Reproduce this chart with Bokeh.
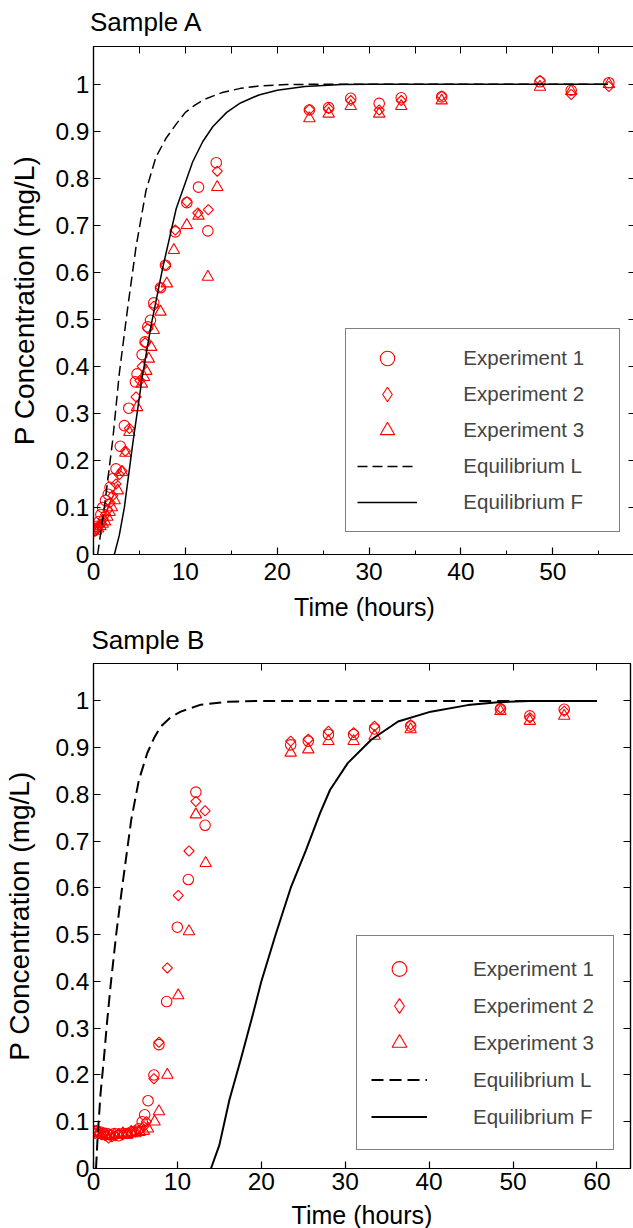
from bokeh.plotting import figure
from bokeh.layouts import column
from bokeh.models import LinearAxis, Range1d, Legend, LegendItem, FixedTicker, CustomJSTickFormatter
from bokeh.embed import file_html
from bokeh.resources import INLINE

FONT = "Liberation Sans"
RED = "#ff0000"

# ---------------- Sample A data ----------------
a_t1 = [0.05, 0.2, 0.4, 0.6, 0.8, 1.0, 1.3, 1.6, 1.8, 2.1, 2.45, 2.92, 3.36, 3.84, 4.56, 4.74, 5.29, 5.62, 5.91, 6.2, 6.56,
        7.29, 7.83, 8.9, 10.16, 11.43, 12.45, 13.36, 23.5, 25.6, 28.0, 31.1, 33.5, 37.9, 48.6, 52.0, 56.1]
a_c1 = [0.05, 0.055, 0.06, 0.07, 0.085, 0.1, 0.115, 0.128, 0.143, 0.161, 0.182, 0.23, 0.274, 0.311, 0.367, 0.384, 0.425,
        0.452, 0.484, 0.498, 0.535, 0.567, 0.615, 0.686, 0.748, 0.781, 0.688, 0.833, 0.945, 0.95, 0.970, 0.959, 0.971,
        0.973, 1.005, 0.987, 1.003]
a_t2 = [0.15, 0.35, 0.55, 0.8, 1.05, 1.3, 1.55, 1.8, 2.1, 2.45, 2.8, 3.1, 3.47, 3.9, 4.63, 5.05, 5.3, 5.62, 5.91, 6.56,
        7.29, 7.85, 8.9, 10.16, 11.36, 12.5, 13.47, 23.5, 25.6, 28.0, 31.1, 33.5, 37.9, 48.6, 52.0, 56.1]
a_c2 = [0.05, 0.055, 0.06, 0.065, 0.075, 0.085, 0.095, 0.11, 0.125, 0.15, 0.17, 0.178, 0.22, 0.268, 0.335, 0.37, 0.40,
        0.45, 0.48, 0.528, 0.568, 0.615, 0.69, 0.75, 0.726, 0.733, 0.815, 0.946, 0.948, 0.965, 0.945, 0.965, 0.975,
        1.008, 0.978, 0.995]
a_t3 = [0.25, 0.5, 0.75, 1.0, 1.25, 1.5, 1.75, 2.0, 2.3, 2.64, 3.1, 3.47, 3.9, 4.74, 5.26, 5.5, 5.75, 6.02, 6.27, 6.56,
        7.29, 7.98, 8.75, 10.16, 11.43, 12.45, 13.47, 23.5, 25.6, 28.0, 31.1, 33.5, 37.9, 48.6, 52.0, 56.1]
a_c3 = [0.05, 0.055, 0.06, 0.065, 0.07, 0.08, 0.09, 0.1, 0.115, 0.136, 0.175, 0.216, 0.26, 0.313, 0.363, 0.377, 0.39,
        0.416, 0.441, 0.477, 0.516, 0.576, 0.647, 0.700, 0.72, 0.590, 0.781, 0.927, 0.937, 0.953, 0.937, 0.953, 0.965,
        0.994, 0.985, 1.0]
a_Lt = [0.45, 1.18, 2.09, 2.81, 3.73, 4.63, 5.72, 6.8, 7.9, 9.0, 10.0, 11.0, 12.0, 14.0, 16.0, 18.0, 21.0, 25.0, 56.0]
a_Lc = [0.0, 0.1, 0.243, 0.385, 0.526, 0.654, 0.774, 0.845, 0.885, 0.915, 0.94, 0.955, 0.967, 0.982, 0.991, 0.996,
        0.999, 1.0, 1.0]
a_Ft = [2.27, 2.8, 3.36, 4.27, 5.29, 6.27, 7.54, 9.0, 10.8, 11.9, 13.0, 14.5, 16.0, 18.0, 20.0, 23.0, 27.0, 30.0, 56.0]
a_Fc = [0.0, 0.04, 0.1, 0.235, 0.375, 0.487, 0.61, 0.735, 0.835, 0.878, 0.91, 0.94, 0.96, 0.977, 0.987, 0.995, 0.999,
        1.0, 1.0]

# ---------------- Sample B data ----------------
b_t1 = [0.1, 0.4, 0.8, 1.2, 1.6, 2.0, 2.5, 3.0, 3.5, 4.0, 4.5, 5.0, 5.4, 5.8, 6.1, 6.5, 7.2, 7.8, 8.72, 9.99, 11.3,
        12.2, 13.3, 23.5, 25.6, 28.0, 31.0, 33.5, 37.8, 48.5, 52.0, 56.1]
b_c1 = [0.08, 0.08, 0.078, 0.076, 0.075, 0.072, 0.075, 0.07, 0.075, 0.075, 0.078, 0.08, 0.085, 0.1, 0.115, 0.145, 0.2,
        0.265, 0.357, 0.516, 0.618, 0.805, 0.734, 0.906, 0.914, 0.928, 0.928, 0.94, 0.946, 0.983, 0.968, 0.982]
b_t2 = [0.2, 0.6, 1.0, 1.4, 1.8, 2.2, 2.6, 3.0, 3.5, 4.0, 4.5, 5.0, 5.5, 6.0, 6.3, 7.2, 7.8, 8.8, 10.1, 11.38, 12.2,
        13.3, 23.5, 25.6, 28.0, 31.0, 33.5, 37.8, 48.5, 52.0, 56.1]
b_c2 = [0.075, 0.075, 0.072, 0.07, 0.065, 0.068, 0.07, 0.075, 0.072, 0.075, 0.075, 0.078, 0.082, 0.09, 0.1, 0.192,
        0.27, 0.429, 0.584, 0.679, 0.785, 0.765, 0.914, 0.918, 0.935, 0.932, 0.946, 0.949, 0.985, 0.964, 0.978]
b_t3 = [0.3, 0.7, 1.1, 1.5, 2.0, 2.5, 3.0, 3.5, 4.0, 4.5, 5.0, 5.5, 6.0, 6.5, 7.28, 7.8, 8.8, 10.1, 11.38, 12.2, 13.37,
        23.5, 25.6, 28.0, 31.0, 33.5, 37.8, 48.5, 52.0, 56.1]
b_c3 = [0.078, 0.075, 0.072, 0.07, 0.07, 0.072, 0.072, 0.075, 0.072, 0.078, 0.075, 0.078, 0.08, 0.085, 0.10, 0.122, 0.2,
        0.37, 0.507, 0.757, 0.653, 0.889, 0.896, 0.914, 0.914, 0.925, 0.939, 0.978, 0.957, 0.968]
b_Lt = [0.3, 0.5, 0.84, 1.23, 1.6, 2.03, 2.7, 3.43, 4.5, 5.4, 6.4, 7.2, 8.0, 9.2, 10.4, 12.8, 16.0, 20.0, 60.0]
b_Lc = [0.0, 0.07, 0.16, 0.233, 0.31, 0.39, 0.5, 0.604, 0.746, 0.83, 0.888, 0.92, 0.945, 0.965, 0.977, 0.992, 0.998,
        1.0, 1.0]
b_Ft = [14.0, 15.0, 16.2, 17.55, 19.0, 20.0, 21.7, 23.5, 25.3, 27.0, 28.2, 30.3, 33.1, 36.3, 40.2, 44.6, 48.2, 52.0,
        60.0]
b_Fc = [0.0, 0.05, 0.147, 0.233, 0.33, 0.40, 0.50, 0.60, 0.68, 0.76, 0.81, 0.867, 0.917, 0.956, 0.977, 0.991, 0.997,
        1.0, 1.0]

y_ticks = [0, 0.1, 0.2, 0.3, 0.4, 0.5, 0.6, 0.7, 0.8, 0.9, 1]
y_tick_labels = ["0", "0.1", "0.2", "0.3", "0.4", "0.5", "0.6", "0.7", "0.8", "0.9", "1"]
a_x_ticks = [0, 10, 20, 30, 40, 50]
a_x_minor = [5, 15, 25, 35, 45, 55]
b_x_ticks = [0, 10, 20, 30, 40, 50, 60]
legend_labels = ["Experiment 1", "Experiment 2", "Experiment 3", "Equilibrium L", "Equilibrium F"]
Y_MAX = 1.08


def panel(title, xmax, xticks, xminor, d1, d2, d3, L, F, geo, lw, dash, leg):
    p = figure(frame_width=geo["fw"], frame_height=geo["fh"], x_range=Range1d(0, xmax), y_range=Range1d(0, Y_MAX),
               output_backend="svg", toolbar_location=None,
               min_border_left=geo["bl"], min_border_right=geo["br"], min_border_top=geo["bt"],
               min_border_bottom=geo["bb"], margin=(geo["mt"], 0, 0, 0))
    p.border_fill_alpha = 0.0
    p.xgrid.visible = False
    p.ygrid.visible = False
    p.outline_line_color = "black"
    p.outline_line_width = 1.2
    p.title.text = title
    p.title.text_font = FONT
    p.title.text_font_size = "26px"
    p.title.text_font_style = "normal"
    p.title.text_color = "black"
    p.title.offset = geo["toff"]
    p.title.standoff = geo["tst"]

    xt = FixedTicker(ticks=xticks, minor_ticks=xminor)
    yt = FixedTicker(ticks=y_ticks)
    overrides = {t: s for t, s in zip(y_ticks, y_tick_labels)}

    for ax in (p.xaxis[0], p.yaxis[0]):
        ax.major_tick_in = 7
        ax.major_tick_out = 0
        ax.minor_tick_in = 4
        ax.minor_tick_out = 0
        ax.axis_line_color = "black"
        ax.axis_line_width = 1.2
        ax.major_tick_line_width = 1.2
        ax.major_label_text_font = FONT
        ax.major_label_text_font_size = "24.5px"
        ax.major_label_text_color = "black"
        ax.axis_label_text_font = FONT
        ax.axis_label_text_font_size = "25px"
        ax.axis_label_text_font_style = "normal"
        ax.axis_label_text_color = "black"
    p.yaxis[0].axis_label_text_font_size = "28px"
    p.xaxis[0].ticker = xt
    p.yaxis[0].ticker = yt
    p.yaxis[0].major_label_overrides = overrides
    p.xaxis[0].axis_label = "Time (hours)"
    p.yaxis[0].axis_label = "P Concentration (mg/L)"
    p.xaxis[0].major_label_standoff = geo["mls"]
    p.yaxis[0].major_label_standoff = 4
    p.xaxis[0].axis_label_standoff = geo["xls"]
    p.yaxis[0].axis_label_standoff = geo["yls"]

    blank = CustomJSTickFormatter(code="return ''")
    top = LinearAxis(ticker=xt, formatter=blank, major_tick_in=7, major_tick_out=0,
                     minor_tick_in=7, minor_tick_out=0, major_label_standoff=0, axis_line_width=1.2)
    right = LinearAxis(ticker=yt, formatter=blank, major_tick_in=7, major_tick_out=0,
                       minor_tick_in=0, minor_tick_out=0, major_label_standoff=0, axis_line_width=1.2)
    p.add_layout(top, "above")
    p.add_layout(right, "right")

    r1 = p.scatter(d1[0], d1[1], marker="circle", size=10.5, fill_color=None, line_color=RED, line_width=1.1)
    r2 = p.scatter(d2[0], d2[1], marker="square", size=7.2, angle=45, angle_units="deg",
                   fill_color=None, line_color=RED, line_width=1.1)
    r2_key = p.scatter(d2[0], d2[1], marker="diamond", size=10, fill_color=None, line_color=RED, line_width=1.1,
                       visible=False)
    r3 = p.scatter(d3[0], d3[1], marker="triangle", size=11.5, fill_color=None, line_color=RED, line_width=1.1)
    rL = p.line(L[0], L[1], line_color="black", line_width=lw, line_dash=dash)
    rF = p.line(F[0], F[1], line_color="black", line_width=lw)

    items = [LegendItem(label=lab, renderers=[r]) for lab, r in zip(legend_labels, [r1, r2_key, r3, rL, rF])]
    legend = Legend(items=items, location=leg["loc"], label_text_font=FONT, label_text_font_size="20.5px",
                    glyph_width=leg["gw"], glyph_height=leg["gh"], label_height=leg["gh"],
                    label_width=leg["lwid"], label_standoff=leg["st"], spacing=0, padding=leg["pad"], margin=0,
                    border_line_color="black", border_line_width=1.2, background_fill_color="white",
                    background_fill_alpha=1.0, inactive_fill_alpha=0.0)
    p.add_layout(legend)
    return p


# A: canvas starts 7px above the page top so that its title can sit higher than Bokeh's title box allows
pa = panel("Sample A", 59, a_x_ticks, a_x_minor, (a_t1, a_c1), (a_t2, a_c2), (a_t3, a_c3), (a_Lt, a_Lc),
           (a_Ft, a_Fc),
           {"fw": 542, "fh": 508, "bl": 88, "br": 3, "bt": 53, "bb": 73, "mls": 8, "xls": 10, "yls": 12,
            "toff": -3.5, "tst": 20, "mt": -7},
           1.5, "10 5",
           {"loc": (257, 22), "gw": 60, "gh": 36, "lwid": 145, "st": 46, "pad": 11})
# B: canvas overlaps the (transparent) bottom border of A
pb = panel("Sample B", 64, b_x_ticks, [], (b_t1, b_c1), (b_t2, b_c2), (b_t3, b_c3), (b_Lt, b_Lc),
           (b_Ft, b_Fc),
           {"fw": 537, "fh": 505, "bl": 93, "br": 3, "bt": 50, "bb": 60, "mls": 4, "xls": 8, "yls": 17,
            "toff": -2, "tst": 17, "mt": -14},
           2, "12 6",
           {"loc": (263, 18), "gw": 56, "gh": 37, "lwid": 126, "st": 46, "pad": 14})

layout = column(pa, pb)
open("out.html", "w").write(file_html(layout, INLINE))
